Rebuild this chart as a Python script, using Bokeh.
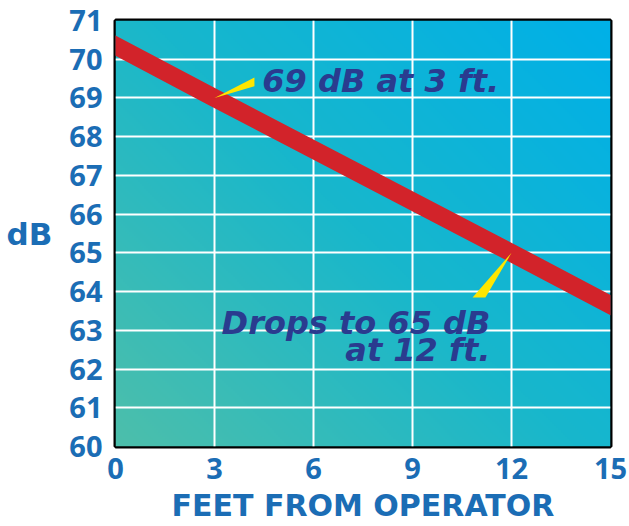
import numpy as np
from bokeh.plotting import figure
from bokeh.models import FixedTicker, Label
from bokeh.embed import file_html
from bokeh.resources import INLINE
from bokeh.core.properties import value

# ---- data ----
feet = [0, 3, 12, 15]
db_level = [70.35, 69.0, 65.0, 63.65]
x_ticks = [0, 3, 6, 9, 12, 15]
y_ticks = [60, 61, 62, 63, 64, 65, 66, 67, 68, 69, 70, 71]
note_x = [3, 12]
note_y = [69, 65]
note1 = "69 dB at 3 ft."
note2a = "Drops to 65 dB"
note2b = "at 12 ft."
x_label = "FEET FROM OPERATOR"
y_label = "dB"

TICK_BLUE = "#1b6db5"
NAVY = "#2a3b8f"
RED = "#d2232a"
YELLOW = "#ffe600"

x0, x1 = x_ticks[0], x_ticks[-1]
y0, y1 = y_ticks[0], y_ticks[-1]

p = figure(width=629, height=526, x_range=(x0, x1), y_range=(y0, y1),
           output_backend="svg", toolbar_location=None,
           min_border_left=115, min_border_right=19,
           min_border_top=20, min_border_bottom=80)
p.background_fill_color = "#18b7cc"
p.border_fill_color = "white"
p.outline_line_color = "black"
p.outline_line_width = 4

# gradient background (bottom-left teal-green -> top-right bright blue)
nx, ny = 240, 206
u = np.linspace(0, 1, nx)[None, :] * 495
v = np.linspace(0, 1, ny)[:, None] * 426
t = (u + v) / (495 + 426)
stops_t = [0.0, 0.5, 1.0]
stops_c = [(0x4d, 0xbf, 0xab), (0x18, 0xb7, 0xcc), (0x00, 0xb0, 0xe8)]
img = np.empty((ny, nx), dtype=np.uint32)
view = img.view(dtype=np.uint8).reshape((ny, nx, 4))
for k in range(3):
    view[:, :, k] = np.interp(t, stops_t, [c[k] for c in stops_c]).astype(np.uint8)
view[:, :, 3] = 255
bg = p.image_rgba(image=[img], x=x0, y=y0, dw=x1 - x0, dh=y1 - y0)
bg.level = "image"

# grid
p.xgrid.ticker = FixedTicker(ticks=x_ticks)
p.ygrid.ticker = FixedTicker(ticks=y_ticks)
for g in (p.xgrid, p.ygrid):
    g.grid_line_color = "white"
    g.grid_line_width = 2
    g.grid_line_alpha = 1.0

# axes
p.xaxis.ticker = FixedTicker(ticks=x_ticks)
p.yaxis.ticker = FixedTicker(ticks=y_ticks)
for ax in (p.xaxis, p.yaxis):
    ax.axis_line_color = None
    ax.major_tick_line_color = None
    ax.minor_tick_line_color = None
    ax.major_tick_out = 0
    ax.major_tick_in = 0
    ax.major_label_text_font = "Open Sans"
    ax.major_label_text_font_style = "bold"
    ax.major_label_text_font_size = "29px"
    ax.major_label_text_color = TICK_BLUE
    ax.axis_label_text_font = "DejaVu Sans"
    ax.axis_label_text_font_style = "bold"
    ax.axis_label_text_color = TICK_BLUE

p.xaxis.major_label_standoff = 11
p.xaxis.axis_label = x_label
p.xaxis.axis_label_text_font_size = "30px"
p.xaxis.axis_label_standoff = 6
p.yaxis.major_label_standoff = 13
p.yaxis.axis_label = y_label
p.yaxis.axis_label_text_font_size = "31px"
p.yaxis.axis_label_orientation = "horizontal"
p.yaxis.axis_label_standoff = 14

# red trend band
p.line(feet, db_level, line_color=RED, line_width=18, line_cap="square")

# yellow callout wedges
w1_x = [note_x[0], note_x[0] + 1.21, note_x[0] + 1.21]
w1_y = [note_y[0], note_y[0] + 0.53, note_y[0] + 0.30]
w2_x = [note_x[1], note_x[1] - 1.18, note_x[1] - 0.79]
w2_y = [note_y[1], note_y[1] - 1.15, note_y[1] - 1.15]
p.patches([w1_x, w2_x], [w1_y, w2_y], fill_color=YELLOW, line_color=None)

# annotation texts
common = dict(text_font="DejaVu Sans", text_font_style="bold italic",
              text_color=NAVY, text_font_size="32px", text_baseline="alphabetic")
p.add_layout(Label(x=note_x[0] + 1.45, y=note_y[0] + 0.45, text=note1,
                   text_align="left", **common))
p.add_layout(Label(x=note_x[1] - 0.64, y=note_y[1] - 1.80, text=note2a,
                   text_align="right", **common))
p.add_layout(Label(x=note_x[1] - 0.64, y=note_y[1] - 2.52, text=note2b,
                   text_align="right", **common))

open("out.html", "w").write(file_html(p, INLINE))
